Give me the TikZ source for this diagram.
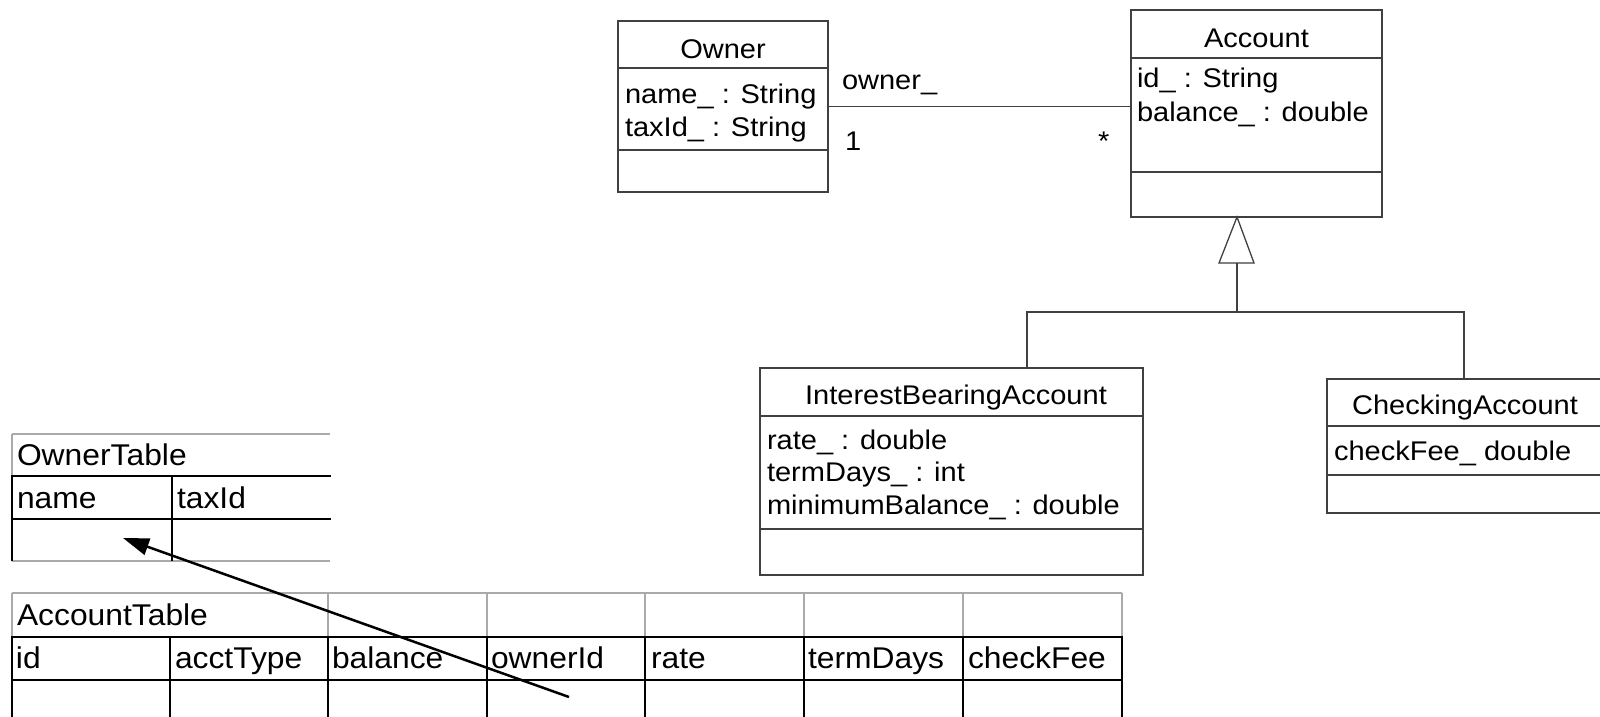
\documentclass[tikz,border=0pt]{standalone}
\usepackage{fontspec}
\setmainfont{Liberation Sans}
\newfontfamily\umlf{Liberation Sans}[FakeStretch=1.075]
\newfontfamily\tblf{Liberation Sans}[FakeStretch=1.06]
\usetikzlibrary{arrows.meta}
\definecolor{umlline}{HTML}{404040}
\definecolor{gridgrey}{HTML}{AAAAAA}
\begin{document}
\begin{tikzpicture}[x=1pt,y=-1pt,
  umlbox/.style={draw=umlline, line width=1.3pt, inner sep=0pt, outer sep=0pt},
  umltxt/.style={inner sep=0pt, outer sep=0pt, font=\umlf\fontsize{27}{33}\selectfont, text=black},
  tbltxt/.style={inner sep=0pt, outer sep=0pt, font=\tblf\fontsize{30}{36}\selectfont, text=black},
  umlconn/.style={draw=umlline, line width=1.3pt},
  tblthick/.style={draw=black, line width=2.7pt, line cap=rect},
  tblgrey/.style={draw=gridgrey, line width=2pt},
  fkarrow/.style={draw=black, line width=2.5pt, -{Triangle[length=26pt,width=17pt]}}
]
\clip (0,0) rectangle (1600,717);
\fill[white] (0,0) rectangle (1600,717);

% ---------- Owner ----------
\node[umlbox, minimum width=210, minimum height=171] (owner) at (723,106.5) {};
\draw[umlconn] (618,68) -- (828,68);
\draw[umlconn] (618,150) -- (828,150);
\node[umltxt, anchor=base] (ownerT) at (723,58.5) {Owner};
\node[umltxt, anchor=base west] (ownerA1) at (625,103) {name\_ : String};
\node[umltxt, anchor=base west] (ownerA2) at (625,136) {taxId\_ : String};

% ---------- Account ----------
\node[umlbox, minimum width=251, minimum height=207] (account) at (1256.5,113.5) {};
\draw[umlconn] (1131,58) -- (1382,58);
\draw[umlconn] (1131,172) -- (1382,172);
\node[umltxt, anchor=base] (accountT) at (1256.5,48) {Account};
\node[umltxt, anchor=base west] (accountA1) at (1137,88) {id\_ : String};
\node[umltxt, anchor=base west] (accountA2) at (1137,121.5) {balance\_ : double};

% ---------- association ----------
\draw[umlconn] (owner.east) -- (owner.east -| account.west);
\node[umltxt, anchor=base west] (rolename) at (842,89) {owner\_};
\node[umltxt, anchor=base west] (multone) at (845,150) {1};
\node[umltxt, anchor=base west] (multmany) at (1098,150) {*};

% ---------- InterestBearingAccount ----------
\node[umlbox, minimum width=383, minimum height=207] (iba) at (951.5,471.5) {};
\draw[umlconn] (760,416) -- (1143,416);
\draw[umlconn] (760,529) -- (1143,529);
\node[umltxt, anchor=base] (ibaT) at (956,404) {InterestBearingAccount};
\node[umltxt, anchor=base west] (ibaA1) at (767,449) {rate\_ : double};
\node[umltxt, anchor=base west] (ibaA2) at (767,481.5) {termDays\_ : int};
\node[umltxt, anchor=base west] (ibaA3) at (767,514) {minimumBalance\_ : double};

% ---------- CheckingAccount ----------
\node[umlbox, minimum width=276, minimum height=134] (ca) at (1465,446) {};
\draw[umlconn] (1327,426) -- (1603,426);
\draw[umlconn] (1327,475) -- (1603,475);
\node[umltxt, anchor=base] (caT) at (1465,414.5) {CheckingAccount};
\node[umltxt, anchor=base west] (caA1) at (1334,460) {checkFee\_ double};

% ---------- generalization ----------
\coordinate (genapex) at (1237,217);
\coordinate (genbase) at (1237,263);
\coordinate (genbar) at (1237,312);
\coordinate (ibaconn) at (1027,368);
\coordinate (caconn) at (1464,379);
\draw[umlconn, fill=white, line join=miter] (genapex) -- (1219,263) -- (1254,263) -- cycle;
\draw[umlconn] (genbase) -- (genbar);
\draw[umlconn] (ibaconn) -- (ibaconn |- genbar) -- (caconn |- genbar) -- (caconn);

% ---------- OwnerTable ----------
\draw[tblgrey] (12,434) -- (330,434);
\draw[tblgrey] (12,434) -- (12,476);
\draw[tblgrey] (12,561) -- (330,561);
\draw[tblthick] (12,476) -- (330,476);
\draw[tblthick] (12,519) -- (330,519);
\draw[tblthick] (12,476) -- (12,560);
\draw[tblthick] (172,476) -- (172,560);
\node[tbltxt, anchor=base west] (otT) at (17,465.5) {OwnerTable};
\node[tbltxt, anchor=base west] (otName) at (17,508.5) {name};
\node[tbltxt, anchor=base west] (otTax) at (177,508.5) {taxId};
\coordinate (pkname) at (123,538);

% ---------- AccountTable ----------
\draw[tblgrey] (12,593) -- (1122,593);
\foreach \cx in {12,328,487,645,804,963,1122} {
  \draw[tblgrey] (\cx,593) -- (\cx,637);
}
\draw[tblthick] (12,637) -- (1122,637);
\draw[tblthick] (12,680) -- (1122,680);
\foreach \cx in {12,170,328,487,645,804,963,1122} {
  \draw[tblthick] (\cx,637) -- (\cx,725);
}
\node[tbltxt, anchor=base west] (atT) at (17,625.5) {AccountTable};
\node[tbltxt, anchor=base west] (atId) at (16,668.5) {id};
\node[tbltxt, anchor=base west] (atType) at (175,668.5) {acctType};
\node[tbltxt, anchor=base west] (atBal) at (332,668.5) {balance};
\node[tbltxt, anchor=base west] (atOwner) at (491,668.5) {ownerId};
\node[tbltxt, anchor=base west] (atRate) at (651,668.5) {rate};
\node[tbltxt, anchor=base west] (atTerm) at (808,668.5) {termDays};
\node[tbltxt, anchor=base west] (atFee) at (968,668.5) {checkFee};
\coordinate (fkowner) at (569,697);

% ---------- foreign key arrow ----------
\draw[fkarrow] (fkowner) -- (pkname);
\end{tikzpicture}
\end{document}
